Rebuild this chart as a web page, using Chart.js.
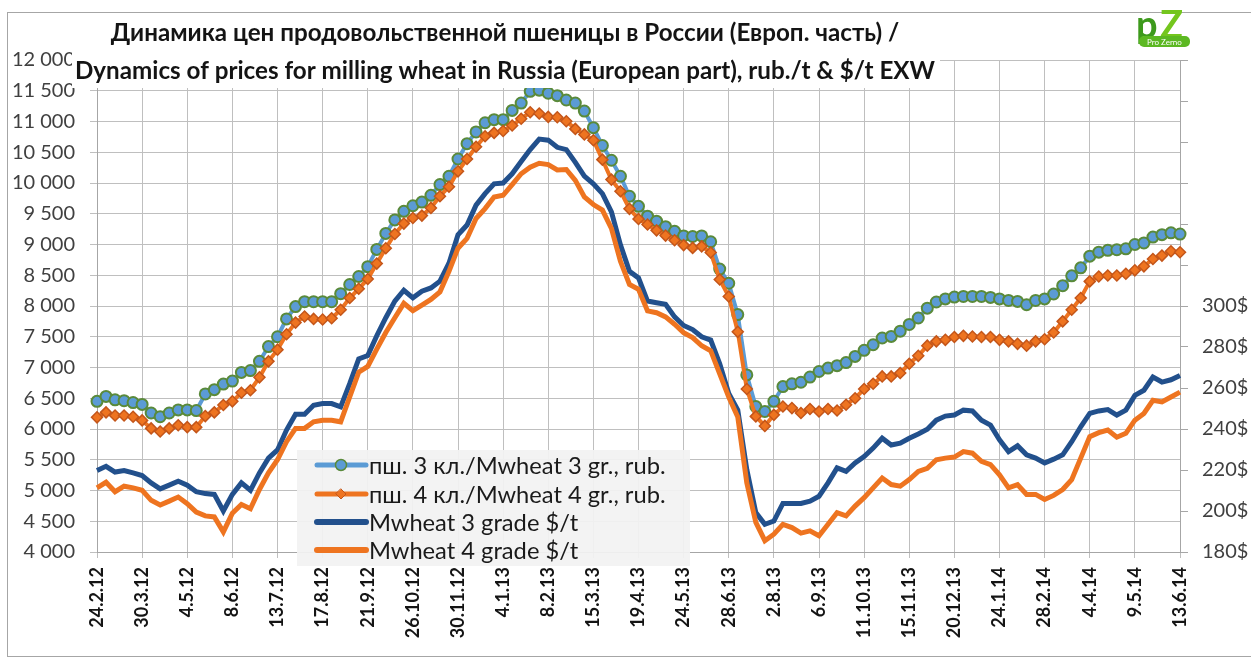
<!DOCTYPE html>
<html>
<head>
<meta charset="utf-8">
<title>Milling wheat prices in Russia</title>
<script src="https://cdn.jsdelivr.net/npm/chart.js@4.4.1/dist/chart.umd.min.js"></script>
<style>
  html, body { margin: 0; padding: 0; background: #ffffff; }
  #wrap { width: 1251px; height: 662px; position: relative; }
</style>
</head>
<body>
<div id="wrap"><canvas id="wheatChart" width="1251" height="662"></canvas></div>
<script>
// Date labels shown under the x axis (one every 5 weeks)
const tickLabels = ['24.2.12', '30.3.12', '4.5.12', '8.6.12', '13.7.12', '17.8.12', '21.9.12', '26.10.12',
    '30.11.12', '4.1.13', '8.2.13', '15.3.13', '19.4.13', '24.5.13', '28.6.13', '2.8.13', '6.9.13',
    '11.10.13', '15.11.13', '20.12.13', '24.1.14', '28.2.14', '4.4.14', '9.5.14', '13.6.14'];

// Weekly prices, rub./t (left axis)
const rub3 = [6450, 6530, 6475, 6460, 6430, 6400, 6260, 6200, 6260, 6310, 6310, 6300, 6570, 6640, 6730, 6780,
    6920, 6950, 7100, 7340, 7500, 7790, 7990, 8070, 8070, 8070, 8070, 8200, 8350, 8480, 8640, 8920,
    9180, 9400, 9540, 9630, 9690, 9800, 9975, 10110, 10390, 10640, 10830, 10980, 11030, 11030, 11180, 11300,
    11490, 11510, 11460, 11420, 11350, 11300, 11170, 10900, 10610, 10370, 10110, 9785, 9620, 9460, 9380, 9290,
    9215, 9140, 9130, 9140, 9045, 8600, 8370, 7860, 6880, 6365, 6285, 6450, 6690, 6735, 6760, 6845,
    6935, 6990, 7030, 7080, 7180, 7280, 7370, 7480, 7505, 7590, 7700, 7805, 7965, 8065, 8115, 8145,
    8155, 8155, 8155, 8140, 8115, 8090, 8075, 8020, 8090, 8115, 8195, 8330, 8490, 8620, 8810, 8875,
    8905, 8915, 8930, 9000, 9025, 9120, 9160, 9190, 9170];

const rub4 = [6190, 6270, 6220, 6220, 6200, 6140, 6010, 5960, 6010, 6060, 6030, 6030, 6210, 6270, 6390, 6450,
    6590, 6630, 6840, 7100, 7290, 7540, 7730, 7830, 7790, 7780, 7800, 7940, 8130, 8280, 8440, 8690,
    8940, 9170, 9340, 9430, 9470, 9595, 9785, 9940, 10190, 10390, 10590, 10760, 10815, 10845, 10935, 11045,
    11150, 11130, 11075, 11070, 11005, 10880, 10790, 10695, 10380, 10055, 9865, 9580, 9415, 9325, 9230, 9145,
    9070, 8990, 8945, 8970, 8870, 8430, 8155, 7580, 6650, 6205, 6050, 6230, 6365, 6340, 6260, 6325,
    6285, 6325, 6300, 6395, 6500, 6650, 6735, 6855, 6855, 6910, 7060, 7190, 7355, 7425, 7450, 7495,
    7515, 7505, 7495, 7495, 7450, 7425, 7385, 7355, 7425, 7460, 7570, 7750, 7940, 8130, 8400, 8480,
    8495, 8495, 8525, 8580, 8645, 8765, 8820, 8890, 8875];

// Weekly prices, $/t (right axis)
const usd3 = [219.8, 221.8, 219.0, 219.7, 218.6, 217.3, 213.7, 210.8, 212.6, 214.5, 212.6, 209.4, 208.5, 208.1, 200.0, 208.1,
    213.7, 210.1, 218.6, 225.8, 229.8, 239.5, 247.2, 247.2, 251.6, 252.4, 252.4, 250.8, 262.1, 274.2, 275.8, 285.5,
    294.3, 302.4, 307.7, 304.0, 307.2, 308.8, 312.1, 320.9, 334.7, 339.5, 349.2, 354.8, 359.6, 360.0, 364.5, 370.5,
    376.3, 381.4, 380.9, 377.4, 376.3, 370.1, 363.4, 359.6, 354.8, 345.9, 329.8, 316.9, 313.7, 302.4, 301.6, 300.8,
    294.7, 290.5, 288.5, 285.0, 283.4, 271.8, 257.3, 249.2, 220.2, 199.2, 193.5, 195.1, 203.7, 203.7, 203.7, 204.8,
    207.2, 213.7, 221.0, 219.3, 223.4, 226.6, 230.7, 235.5, 232.2, 233.1, 235.5, 237.6, 239.9, 244.3, 246.3, 246.8,
    249.2, 248.8, 244.3, 241.9, 234.7, 229.0, 231.8, 227.4, 225.8, 223.4, 225.3, 227.4, 233.8, 241.1, 247.6, 248.8,
    249.5, 246.8, 249.2, 256.4, 258.9, 265.3, 262.9, 264.0, 266.1];

const usd4 = [211.3, 214.0, 209.4, 212.1, 211.3, 210.1, 205.2, 202.9, 204.8, 206.8, 203.6, 199.5, 197.6, 197.1, 189.8, 198.9,
    203.2, 201.1, 210.5, 218.6, 225.0, 233.8, 240.3, 240.3, 243.5, 244.3, 244.3, 243.5, 255.6, 267.7, 270.5, 279.0,
    287.1, 294.3, 301.3, 297.7, 300.4, 303.2, 306.9, 316.9, 328.2, 333.0, 342.7, 347.5, 353.2, 354.0, 359.2, 364.5,
    367.7, 369.6, 369.0, 366.4, 366.6, 361.3, 353.2, 349.5, 346.8, 337.9, 321.8, 310.5, 308.1, 297.6, 296.7, 294.7,
    291.1, 287.0, 284.6, 280.6, 278.2, 266.9, 255.6, 245.9, 213.7, 194.4, 185.5, 188.7, 193.5, 191.9, 189.2, 190.3,
    187.9, 193.5, 199.2, 197.6, 202.4, 206.5, 211.3, 216.1, 212.9, 212.1, 215.3, 219.3, 220.8, 225.0, 225.8, 226.3,
    229.0, 228.2, 224.2, 222.6, 217.7, 211.3, 212.9, 208.1, 208.1, 205.6, 207.6, 210.5, 215.3, 225.8, 236.3, 238.2,
    239.5, 236.0, 237.9, 244.3, 247.6, 254.0, 253.2, 255.6, 258.0];

// Legend texts and title lines
const seriesNames = ['пш. 3 кл./Mwheat 3 gr., rub.', 'пш. 4 кл./Mwheat 4 gr., rub.', 'Mwheat 3 grade $/t', 'Mwheat 4 grade $/t'];
const titleLines = ['Динамика цен продовольственной пшеницы в России (Европ. часть) /',
    'Dynamics of prices for milling wheat in Russia (European part), rub./t & $/t EXW'];

// Colours used by the series
const LIGHT_BLUE = '#5b9bd5';
const GREEN_EDGE = '#5a8a3a';
const ORANGE = '#ee7420';
const ORANGE_EDGE = '#c4561a';
const DARK_BLUE = '#22508c';
const GRID = '#bfbfbf';
const FONT = 'Lato, "Noto Sans", sans-serif';

// One category per week
const weeks = rub3.map((v, i) => i);

// Format 12000 as "12 000"
function spaced(v)
{
    return String(v).replace(/\B(?=(\d{3})+(?!\d))/g, ' ');
}

// Draw a sample of a series in the legend box
function legendSample(ctx, y, color, width, marker)
{
    ctx.save();
    ctx.strokeStyle = color;
    ctx.lineWidth = width;
    ctx.lineCap = 'round';
    ctx.beginPath();
    ctx.moveTo(317, y);
    ctx.lineTo(366, y);
    ctx.stroke();
    if (marker === 'circle')
    {
        ctx.beginPath();
        ctx.arc(341, y, 5.5, 0, Math.PI * 2);
        ctx.fillStyle = LIGHT_BLUE;
        ctx.fill();
        ctx.lineWidth = 1.5;
        ctx.strokeStyle = GREEN_EDGE;
        ctx.stroke();
    }
    else if (marker === 'diamond')
    {
        ctx.beginPath();
        ctx.moveTo(341, y - 5);
        ctx.lineTo(346, y);
        ctx.lineTo(341, y + 5);
        ctx.lineTo(336, y);
        ctx.closePath();
        ctx.fillStyle = ORANGE;
        ctx.fill();
        ctx.lineWidth = 1;
        ctx.strokeStyle = ORANGE_EDGE;
        ctx.stroke();
    }
    ctx.restore();
}

// Plugin for the outer frame, title block, logo and the legend inside the plot
const decorations = {
    id: 'decorations',
    afterDraw(chart)
    {
        const ctx = chart.ctx;
        ctx.save();

        // Outer frame of the chart object
        ctx.strokeStyle = '#a6a6a6';
        ctx.lineWidth = 1;
        ctx.strokeRect(7.5, 12.5, 1300, 644);

        // White title block covering the top of the plot
        ctx.fillStyle = '#ffffff';
        ctx.fillRect(72, 13, 868, 75);

        // Title text, sized so the English line fills its width
        let size = 20;
        ctx.font = 'bold ' + size + 'px ' + FONT;
        size = size * 860 / ctx.measureText(titleLines[1]).width;
        ctx.font = 'bold ' + size.toFixed(1) + 'px ' + FONT;
        ctx.fillStyle = '#141414';
        ctx.textAlign = 'center';
        ctx.textBaseline = 'middle';
        ctx.fillText(titleLines[0], 505, 33);
        ctx.fillText(titleLines[1], 505, 71);

        // ProZerno logo
        ctx.textAlign = 'left';
        ctx.textBaseline = 'alphabetic';
        ctx.font = 'bold 38px ' + FONT;
        ctx.fillStyle = '#3d9a1c';
        ctx.fillText('p', 1136, 38);
        ctx.fillStyle = '#74c61e';
        ctx.fillText('Z', 1160, 38);
        ctx.fillStyle = '#5cb822';
        ctx.beginPath();
        ctx.roundRect(1139, 36, 51, 11, 5);
        ctx.fill();
        ctx.font = '8px ' + FONT;
        ctx.fillStyle = '#ffffff';
        ctx.fillText('Pro Zerno', 1147, 44.5);

        // Legend box inside the plot area
        ctx.fillStyle = 'rgba(242, 242, 242, 0.93)';
        ctx.fillRect(297, 450, 393, 116);
        const rows = [465, 494, 522, 550];
        legendSample(ctx, rows[0], LIGHT_BLUE, 5, 'circle');
        legendSample(ctx, rows[1], ORANGE, 5, 'diamond');
        legendSample(ctx, rows[2], DARK_BLUE, 6, null);
        legendSample(ctx, rows[3], ORANGE, 6, null);

        let lsize = 20;
        ctx.font = lsize + 'px ' + FONT;
        lsize = lsize * 297 / ctx.measureText(seriesNames[0]).width;
        ctx.font = lsize.toFixed(1) + 'px ' + FONT;
        ctx.fillStyle = '#1a1a1a';
        ctx.textBaseline = 'middle';
        seriesNames.forEach((name, i) => ctx.fillText(name, 369, rows[i] + 1));

        ctx.restore();
    }
};

const ctx = document.getElementById('wheatChart').getContext('2d');

new Chart(ctx,
{
    type: 'line',
    data:
    {
        labels: weeks,
        datasets: [
            {
                label: seriesNames[3],
                data: usd4,
                yAxisID: 'y1',
                borderColor: ORANGE,
                borderWidth: 5,
                pointRadius: 0,
                order: 0
            },
            {
                label: seriesNames[2],
                data: usd3,
                yAxisID: 'y1',
                borderColor: DARK_BLUE,
                borderWidth: 5,
                pointRadius: 0,
                order: 1
            },
            {
                label: seriesNames[1],
                data: rub4,
                yAxisID: 'y',
                borderColor: ORANGE,
                borderWidth: 4,
                pointStyle: 'rectRot',
                pointRadius: 5.5,
                pointBackgroundColor: ORANGE,
                pointBorderColor: ORANGE_EDGE,
                pointBorderWidth: 1.5,
                order: 2
            },
            {
                label: seriesNames[0],
                data: rub3,
                yAxisID: 'y',
                borderColor: LIGHT_BLUE,
                borderWidth: 4,
                pointStyle: 'circle',
                pointRadius: 5.5,
                pointBackgroundColor: LIGHT_BLUE,
                pointBorderColor: GREEN_EDGE,
                pointBorderWidth: 2,
                order: 3
            }
        ]
    },
    options:
    {
        responsive: false,
        animation: false,
        devicePixelRatio: 1,
        layout: { padding: { top: 60, left: 0, right: 0, bottom: 0 } },
        elements: { line: { tension: 0 } },
        plugins:
        {
            legend: { display: false },
            tooltip: { enabled: false }
        },
        scales:
        {
            x:
            {
                type: 'category',
                afterFit: scale => { scale.height = 110; },
                border: { color: '#a6a6a6' },
                grid:
                {
                    color: c => (c.index % 5 === 0 ? GRID : 'rgba(0,0,0,0)'),
                    tickLength: 6
                },
                ticks:
                {
                    autoSkip: false,
                    minRotation: 90,
                    maxRotation: 90,
                    padding: 9,
                    color: '#141414',
                    font: { family: FONT, size: 18, weight: 'bold' },
                    callback: (value, index) => (index % 5 === 0 ? tickLabels[index / 5] : '')
                }
            },
            y:
            {
                position: 'left',
                min: 4000,
                max: 12000,
                afterFit: scale => { scale.width = 97; },
                border: { color: '#a6a6a6' },
                grid: { color: GRID, tickLength: 7 },
                ticks:
                {
                    stepSize: 500,
                    padding: 15,
                    color: '#404040',
                    font: { family: FONT, size: 20 },
                    callback: v => spaced(v)
                }
            },
            y1:
            {
                position: 'right',
                min: 180,
                max: 420,
                afterFit: scale => { scale.width = 71; },
                border: { color: '#a6a6a6' },
                grid: { drawOnChartArea: false, color: '#a6a6a6', tickLength: 8 },
                ticks:
                {
                    stepSize: 20,
                    padding: 14,
                    color: '#404040',
                    font: { family: FONT, size: 20 },
                    callback: v => (v <= 300 ? v + '$' : '')
                }
            }
        }
    },
    plugins: [decorations]
});
</script>
</body>
</html>
